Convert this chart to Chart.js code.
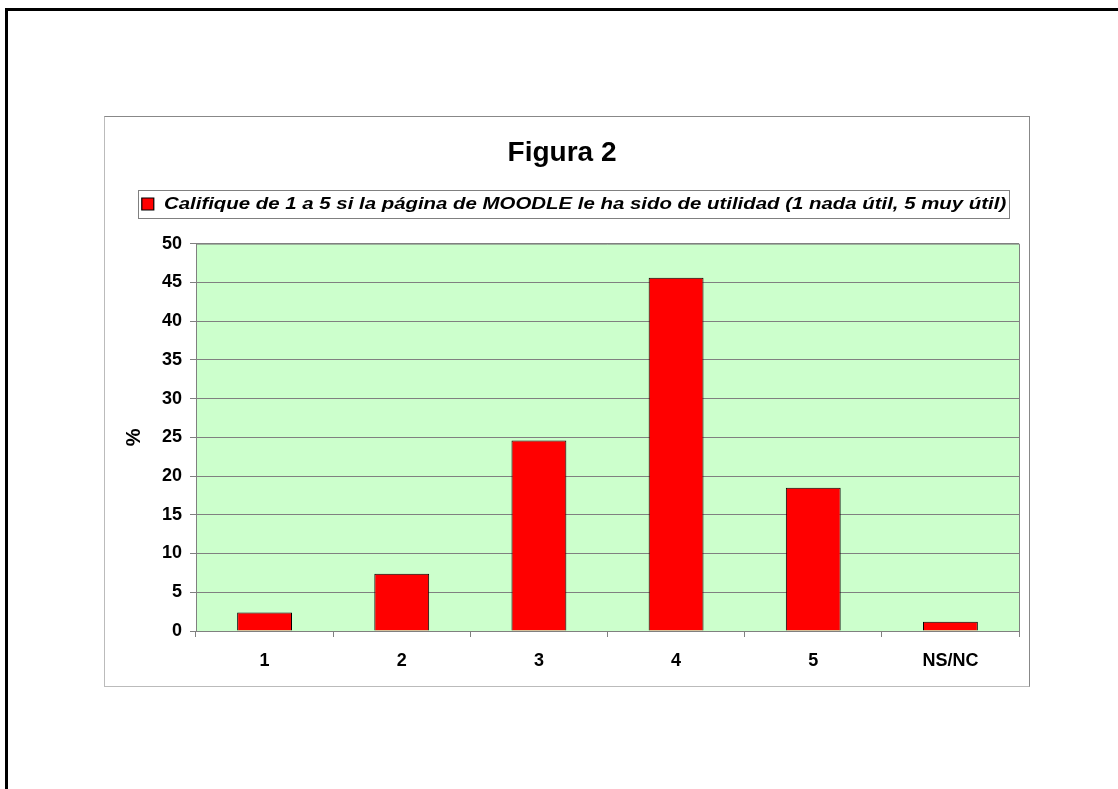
<!DOCTYPE html>
<html>
<head>
<meta charset="utf-8">
<script src="https://cdn.jsdelivr.net/npm/chart.js@4"></script>
<style>
	body { margin: 0; background: #fff; width: 1118px; height: 789px; overflow: hidden; position: relative; }
	.page { position: absolute; left: 5px; top: 8px; width: 1200px; height: 900px; border-left: 3px solid #000; border-top: 3px solid #000; }
	.chart-box { position: absolute; left: 104px; top: 116px; width: 926px; height: 571px; box-sizing: border-box; border: 1px solid #888; border-left-color: #bbb; border-bottom-color: #bbb; background: #fff; }
	canvas { display: block; }
</style>
</head>
<body>
<div class="page"></div>
<div class="chart-box">
	<canvas id="figChart" width="924" height="569"></canvas>
</div>
<script>
	var categories = ['1', '2', '3', '4', '5', 'NS/NC'];
	var percent_values = [2.4, 7.4, 24.6, 45.6, 18.5, 1.2];
	var series_label = 'Califique de 1 a 5 si la página de MOODLE le ha sido de utilidad (1 nada útil, 5 muy útil)';
	var y_min = 0, y_max = 50, y_step = 5;

	var fontName = "'Liberation Sans', Arial, sans-serif";
	// the legend of the original is drawn wider than plain Arial
	var legendStretch = 1.2;
	var legendCenter = 469;

	function legendX(chart, x) {
		var mid = chart.legend.left + chart.legend.width / 2;
		return legendCenter + (x - mid) * legendStretch;
	}

	// green plot background, grey frame and a box round the legend
	var framePlugin = {
		id: 'frame',
		beforeInit: function(chart) {
			var lg = chart.legend;
			var fit = lg.fit;
			lg.fit = function() {
				fit.bind(lg)();
				this.height += 21;
			};
			var draw = lg.draw;
			lg.draw = function(area) {
				var c = chart.ctx;
				var mid = lg.left + lg.width / 2;
				c.save();
				c.translate(legendCenter, 0);
				c.scale(legendStretch, 1);
				c.translate(-mid, 0);
				draw.call(lg, area);
				c.restore();
			};
		},
		beforeDraw: function(chart) {
			var a = chart.chartArea;
			var c = chart.ctx;
			c.save();
			c.fillStyle = '#ccffcc';
			c.fillRect(a.left, a.top, a.right - a.left, a.bottom - a.top);
			c.restore();
		},
		afterDraw: function(chart) {
			var a = chart.chartArea;
			var c = chart.ctx;
			c.save();
			c.strokeStyle = '#808080';
			c.lineWidth = 1;
			c.beginPath();
			c.moveTo(a.left, a.top + 0.5);
			c.lineTo(a.right + 0.5, a.top + 0.5);
			c.lineTo(a.right + 0.5, a.bottom);
			c.stroke();
			var hb = chart.legend.legendHitBoxes[0];
			if (hb) {
				var cy = hb.top + hb.height / 2;
				var x1 = Math.round(legendX(chart, hb.left) - 4);
				var x2 = Math.round(legendX(chart, hb.left + hb.width) + 3);
				c.strokeRect(x1 + 0.5, Math.round(cy - 14) + 0.5, x2 - x1, 28);
			}
			c.restore();
		}
	};

	var ctx = document.getElementById('figChart');
	var config = {
		type: 'bar',
		data: {
			labels: categories,
			datasets: [{
				label: series_label,
				data: percent_values,
				backgroundColor: '#ff0000',
				borderColor: '#000000',
				borderWidth: 1,
				categoryPercentage: 1,
				barPercentage: 0.4
			}]
		},
		options: {
			responsive: false,
			animation: false,
			layout: { padding: { left: 0, right: 10, top: 0, bottom: 0 } },
			plugins: {
				title: {
					display: true,
					text: 'Figura 2',
					color: '#000',
					font: { family: fontName, size: 28, weight: 'bold' },
					padding: { top: 19, bottom: 16 }
				},
				legend: {
					display: true,
					labels: {
						color: '#000',
						font: { family: fontName, size: 17, weight: 'bold', style: 'italic' },
						boxWidth: 10,
						boxHeight: 12,
						padding: 10
					}
				},
				tooltip: { enabled: false }
			},
			scales: {
				x: {
					grid: { display: true, drawOnChartArea: false, offset: true, color: '#808080', tickLength: 6 },
					border: { color: '#808080' },
					ticks: { color: '#000', padding: 13, font: { family: fontName, size: 18, weight: 'bold' } },
					afterFit: function(scale) { scale.height = 55; }
				},
				y: {
					min: y_min,
					max: y_max,
					ticks: { stepSize: y_step, color: '#000', padding: 8, font: { family: fontName, size: 18, weight: 'bold' } },
					grid: { color: '#808080', tickLength: 6 },
					border: { color: '#808080' },
					title: {
						display: true,
						text: '%',
						color: '#000',
						font: { family: fontName, size: 20, weight: 'bold' },
						padding: { top: 17 }
					},
					afterFit: function(scale) { scale.width = 91; }
				}
			}
		},
		plugins: [framePlugin]
	};
	new Chart(ctx, config);
</script>
</body>
</html>
